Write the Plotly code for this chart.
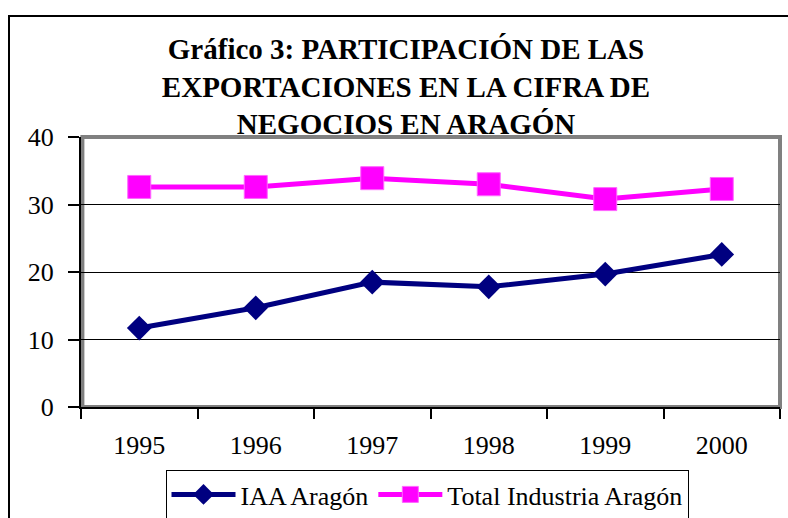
import plotly.graph_objects as go

years = ["1995", "1996", "1997", "1998", "1999", "2000"]
iaa_aragon = [11.7, 14.7, 18.5, 17.8, 19.7, 22.6]
total_industria = [32.6, 32.6, 33.9, 33.0, 30.8, 32.3]
y_ticks = [0, 10, 20, 30, 40]

FONT = "Liberation Serif"

fig = go.Figure()
fig.add_trace(go.Scatter(
    x=years, y=iaa_aragon, name="IAA Aragón", mode="lines+markers",
    line=dict(color="#000080", width=5),
    marker=dict(symbol="diamond", size=19, color="#000080"),
))
fig.add_trace(go.Scatter(
    x=years, y=total_industria, name="Total Industria Aragón", mode="lines+markers",
    line=dict(color="#FF00FF", width=5),
    marker=dict(symbol="square", size=23, color="#FF00FF",
                line=dict(color="#FF66FF", width=1)),
))

L, R, T, B = 81, 8, 137, 111
W, H = 788, 518
pw, ph = W - L - R, H - T - B

def px_x(x):
    return (x - L) / pw

def px_y(y):
    return (H - B - y) / ph

fig.update_layout(
    width=W, height=H,
    margin=dict(l=L, r=R, t=T, b=B, autoexpand=False),
    paper_bgcolor="white", plot_bgcolor="white",
    font=dict(family=FONT, size=26, color="black"),
    title=dict(
        text="<b>Gráfico 3: PARTICIPACIÓN DE LAS<br>EXPORTACIONES EN LA CIFRA DE<br>NEGOCIOS EN ARAGÓN</b>",
        font=dict(family=FONT, size=29, color="black"),
        x=406 / W, xanchor="center", xref="container",
        y=1 - 59 / H, yanchor="middle", yref="container",
    ),
    showlegend=True,
    legend=dict(
        orientation="h", x=px_x(427), xanchor="center",
        y=px_y(470), yanchor="top",
        bordercolor="black", borderwidth=1, bgcolor="white",
        font=dict(family=FONT, size=26, color="black"),
        tracegroupgap=0, itemwidth=64,
    ),
    xaxis=dict(
        type="category", range=[-0.5, 5.5], showgrid=False, showline=True,
        linecolor="black", linewidth=2,
        ticks="outside", tickson="boundaries", ticklen=10, tickcolor="black", tickwidth=2,
        ticklabelstandoff=14, tickfont=dict(family=FONT, size=26, color="black"),
        zeroline=False, fixedrange=True,
    ),
    yaxis=dict(
        range=[0, 40], tickvals=y_ticks, showgrid=True, gridcolor="black", gridwidth=1,
        showline=True, linecolor="black", linewidth=2,
        ticks="outside", ticklen=11, tickcolor="black", tickwidth=2,
        ticklabelstandoff=9, tickfont=dict(family=FONT, size=26, color="black"),
        zeroline=False, fixedrange=True,
    ),
    shapes=[
        dict(type="rect", xref="paper", yref="paper", x0=0.002, x1=1.0, y0=0.0, y1=1.0,
             line=dict(color="#808080", width=4), layer="between"),
        dict(type="rect", xref="paper", yref="paper",
             x0=px_x(9), x1=px_x(W + 20), y0=px_y(H + 20), y1=px_y(16),
             line=dict(color="black", width=2), layer="above"),
    ],
)

fig.write_html("out.html", config={"displayModeBar": False},
               post_script="document.body.style.margin='0';document.body.style.padding='0';")
